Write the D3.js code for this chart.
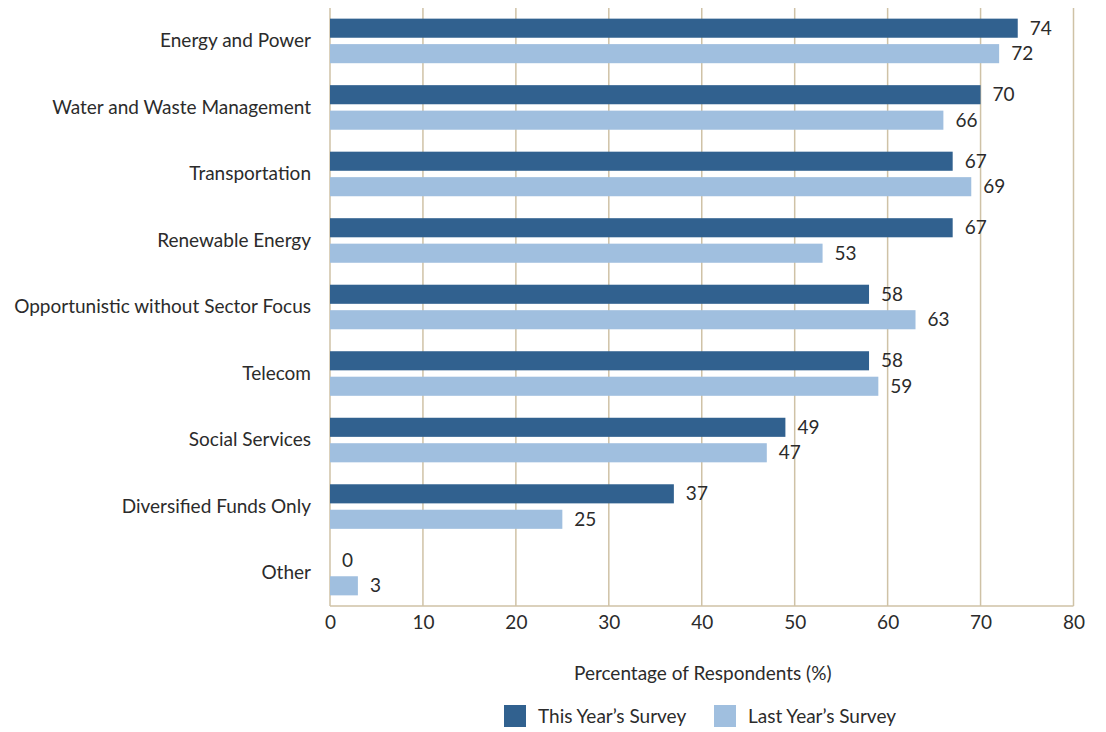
<!DOCTYPE html>
<html><head><meta charset="utf-8">
<script src="https://cdn.jsdelivr.net/npm/d3@7"></script>
<style>
body{margin:0;background:#fff;}
text{font-family:Lato,"Open Sans",sans-serif;fill:#2b2b2b;}
</style></head>
<body><svg id="c" width="1106" height="732"></svg>
<script>
const categories = ["Energy and Power","Water and Waste Management","Transportation","Renewable Energy","Opportunistic without Sector Focus","Telecom","Social Services","Diversified Funds Only","Other"];
const thisYear = [74,70,67,67,58,58,49,37,0];
const lastYear = [72,66,69,53,63,59,47,25,3];
const seriesNames = ["This Year\u2019s Survey","Last Year\u2019s Survey"];
const xTicks = [0,10,20,30,40,50,60,70,80];
const colors = ["#31618f","#a0bfdf"];
const grid = "#cfc2a6";

const svg = d3.select("#c");
const m = {l:330, r:1073.5, t:8, b:606};
const x = d3.scaleLinear().domain([0,80]).range([m.l,m.r]);
const y = d3.scaleBand().domain(categories).range([m.t,m.b]).paddingInner(0.33).paddingOuter(0.16);
const y1 = d3.scaleBand().domain([0,1]).range([0,y.bandwidth()]).paddingInner(0.25);

// grid
svg.append("g").selectAll("line").data(xTicks).join("line")
  .attr("x1",d=>x(d)).attr("x2",d=>x(d)).attr("y1",m.t).attr("y2",m.b)
  .attr("stroke",grid).attr("stroke-width",1.5);
svg.append("line").attr("x1",m.l).attr("x2",m.r).attr("y1",m.b).attr("y2",m.b).attr("stroke",grid).attr("stroke-width",1.5);

// x axis labels
const xa = svg.append("g").attr("transform",`translate(0,${m.b})`)
  .call(d3.axisBottom(x).tickValues(xTicks).tickSize(0).tickPadding(10));
xa.select(".domain").remove();
xa.selectAll("text").attr("font-size",19).style("font-family","Lato,sans-serif").attr("fill","#2b2b2b");

// y axis labels
const ya = svg.append("g").attr("transform",`translate(${m.l},0)`)
  .call(d3.axisLeft(y).tickSize(0).tickPadding(19));
ya.select(".domain").remove();
ya.selectAll("text").attr("font-size",19).style("font-family","Lato,sans-serif").attr("fill","#2b2b2b");

const data = categories.map((c,i)=>({c, v:[thisYear[i],lastYear[i]]}));
const g = svg.append("g").selectAll("g").data(data).join("g")
  .attr("transform",d=>`translate(0,${y(d.c)})`);
g.selectAll("rect").data(d=>d.v.map((v,k)=>({v,k}))).join("rect")
  .attr("x",x(0)).attr("y",d=>y1(d.k)).attr("width",d=>x(d.v)-x(0)).attr("height",y1.bandwidth())
  .attr("fill",d=>colors[d.k]);
g.selectAll("text.v").data(d=>d.v.map((v,k)=>({v,k}))).join("text").attr("class","v")
  .attr("x",d=>x(d.v)+12).attr("y",d=>y1(d.k)+y1.bandwidth()/2).attr("dy","0.35em")
  .attr("font-size",19).text(d=>d.v);

// axis title
svg.append("text").attr("x",(m.l+m.r)/2+1).attr("y",680).attr("text-anchor","middle")
  .attr("font-size",19).text("Percentage of Respondents (%)");

// legend
const leg = [{x:504},{x:714}];
seriesNames.forEach((n,i)=>{
  svg.append("rect").attr("x",leg[i].x).attr("y",705).attr("width",22).attr("height",22).attr("fill",colors[i]);
  svg.append("text").attr("x",leg[i].x+34).attr("y",716).attr("dy","0.35em").attr("font-size",19).text(n);
});
</script></body></html>
